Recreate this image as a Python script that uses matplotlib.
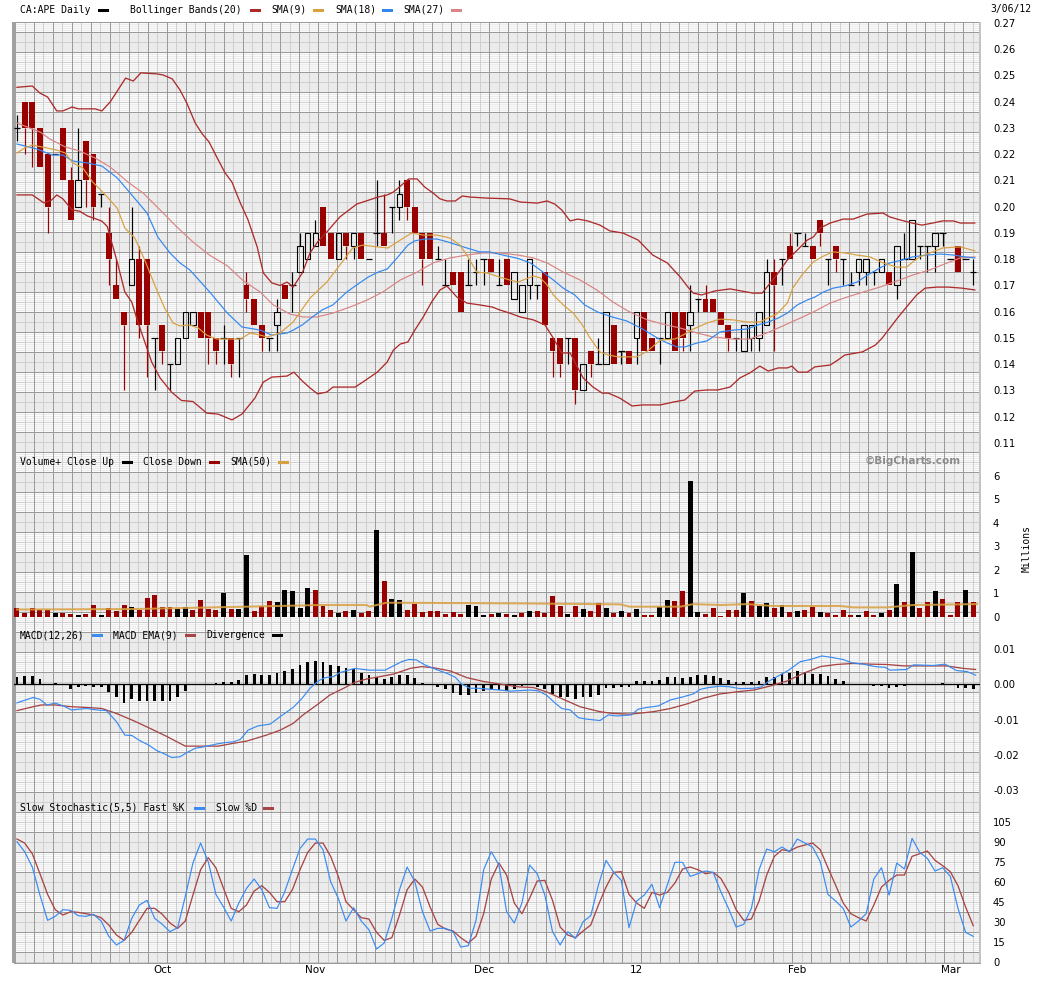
import matplotlib
matplotlib.use("Agg")
import matplotlib.pyplot as plt
from matplotlib.patches import Rectangle
import numpy as np

# ---------------- data (CA:APE daily, Sep 6 2011 - Mar 6 2012) ----------------
opens = [0.23, 0.24, 0.24, 0.23, 0.22, 0.22, 0.23, 0.21, 0.20, 0.225,
         0.22, 0.205, 0.19, 0.17, 0.16, 0.17, 0.18, 0.18, 0.15, 0.155,
         0.14, 0.14, 0.15, 0.155, 0.16, 0.16, 0.15, 0.15, 0.15, 0.15,
         0.17, 0.165, 0.155, 0.15, 0.155, 0.17, 0.17, 0.175, 0.18, 0.185,
         0.20, 0.19, 0.18, 0.19, 0.185, 0.19, 0.18, 0.19, 0.19, 0.20,
         0.20, 0.21, 0.20, 0.19, 0.19, 0.18, 0.17, 0.175, 0.175, 0.17,
         0.175, 0.18, 0.18, 0.17, 0.18, 0.165, 0.16, 0.17, 0.17, 0.175,
         0.15, 0.15, 0.15, 0.15, 0.13, 0.145, 0.14, 0.14, 0.155, 0.145,
         0.145, 0.15, 0.16, 0.15, 0.15, 0.15, 0.16, 0.16, 0.155, 0.165,
         0.165, 0.165, 0.16, 0.155, 0.15, 0.145, 0.15, 0.15, 0.155, 0.175,
         0.18, 0.185, 0.19, 0.185, 0.185, 0.195, 0.18, 0.185, 0.18, 0.17,
         0.175, 0.175, 0.175, 0.175, 0.175, 0.17, 0.18, 0.18, 0.185, 0.185,
         0.185, 0.19, 0.18, 0.185, 0.18, 0.175]
highs = [0.235, 0.24, 0.24, 0.23, 0.22, 0.22, 0.23, 0.215, 0.23, 0.225,
         0.22, 0.205, 0.20, 0.18, 0.16, 0.20, 0.185, 0.18, 0.15, 0.155,
         0.14, 0.15, 0.16, 0.16, 0.16, 0.16, 0.15, 0.155, 0.15, 0.15,
         0.175, 0.165, 0.155, 0.15, 0.165, 0.17, 0.175, 0.19, 0.19, 0.195,
         0.20, 0.19, 0.19, 0.19, 0.19, 0.19, 0.18, 0.21, 0.205, 0.20,
         0.21, 0.21, 0.20, 0.19, 0.19, 0.185, 0.18, 0.175, 0.175, 0.18,
         0.18, 0.18, 0.18, 0.18, 0.18, 0.175, 0.17, 0.18, 0.17, 0.175,
         0.15, 0.15, 0.15, 0.15, 0.14, 0.145, 0.15, 0.16, 0.155, 0.145,
         0.145, 0.16, 0.16, 0.15, 0.15, 0.16, 0.16, 0.16, 0.17, 0.165,
         0.17, 0.165, 0.16, 0.155, 0.15, 0.155, 0.155, 0.16, 0.18, 0.18,
         0.18, 0.19, 0.19, 0.19, 0.185, 0.195, 0.18, 0.185, 0.18, 0.175,
         0.18, 0.18, 0.175, 0.18, 0.175, 0.185, 0.19, 0.195, 0.185, 0.185,
         0.19, 0.19, 0.18, 0.185, 0.18, 0.18]
lows = [0.225, 0.22, 0.215, 0.215, 0.19, 0.22, 0.21, 0.195, 0.20, 0.20,
        0.195, 0.20, 0.17, 0.165, 0.13, 0.17, 0.15, 0.135, 0.13, 0.14,
        0.13, 0.14, 0.15, 0.155, 0.15, 0.14, 0.14, 0.14, 0.135, 0.135,
        0.16, 0.155, 0.145, 0.145, 0.145, 0.165, 0.16, 0.175, 0.18, 0.185,
        0.185, 0.18, 0.18, 0.18, 0.18, 0.18, 0.18, 0.185, 0.185, 0.19,
        0.195, 0.195, 0.19, 0.17, 0.18, 0.18, 0.17, 0.17, 0.16, 0.17,
        0.17, 0.17, 0.175, 0.17, 0.17, 0.165, 0.16, 0.165, 0.165, 0.155,
        0.135, 0.135, 0.14, 0.125, 0.13, 0.135, 0.14, 0.14, 0.14, 0.14,
        0.14, 0.14, 0.145, 0.145, 0.14, 0.15, 0.145, 0.145, 0.145, 0.16,
        0.16, 0.16, 0.155, 0.145, 0.145, 0.145, 0.145, 0.145, 0.155, 0.145,
        0.17, 0.18, 0.185, 0.185, 0.18, 0.185, 0.17, 0.175, 0.17, 0.17,
        0.17, 0.17, 0.17, 0.175, 0.17, 0.165, 0.18, 0.18, 0.18, 0.175,
        0.175, 0.185, 0.18, 0.175, 0.18, 0.17]
closes = [0.23, 0.23, 0.23, 0.215, 0.20, 0.22, 0.21, 0.195, 0.21, 0.21,
          0.20, 0.205, 0.18, 0.165, 0.155, 0.18, 0.155, 0.155, 0.15, 0.145,
          0.14, 0.15, 0.16, 0.16, 0.15, 0.15, 0.145, 0.15, 0.14, 0.15,
          0.165, 0.155, 0.15, 0.15, 0.16, 0.165, 0.17, 0.185, 0.19, 0.19,
          0.185, 0.18, 0.19, 0.185, 0.19, 0.18, 0.18, 0.19, 0.185, 0.20,
          0.205, 0.20, 0.19, 0.18, 0.18, 0.18, 0.17, 0.17, 0.16, 0.17,
          0.175, 0.18, 0.175, 0.17, 0.17, 0.175, 0.17, 0.18, 0.17, 0.155,
          0.145, 0.14, 0.15, 0.13, 0.14, 0.14, 0.14, 0.16, 0.14, 0.145,
          0.14, 0.16, 0.145, 0.145, 0.15, 0.16, 0.145, 0.15, 0.16, 0.165,
          0.16, 0.16, 0.155, 0.15, 0.15, 0.155, 0.155, 0.16, 0.175, 0.17,
          0.18, 0.18, 0.19, 0.185, 0.18, 0.19, 0.18, 0.18, 0.18, 0.17,
          0.18, 0.18, 0.175, 0.18, 0.17, 0.185, 0.18, 0.195, 0.185, 0.185,
          0.19, 0.19, 0.18, 0.175, 0.18, 0.175]

# overlay lines: (day index, value) pairs
bb_upper_x = [0, 2, 3, 4, 5.2, 6, 7.2, 8, 10.2, 11.1, 12.2, 14.2, 15.2, 16.2, 18.3, 19.1, 20.3, 21.3,
              22.2, 23.3, 24.2, 25.1, 26.1, 27.2, 28.1, 29.2, 30.2, 31.4, 32.2, 33.3, 34.4, 35.3, 36.1,
              37.3, 38.3, 39.3, 40.5, 42.2, 44.4, 47.2, 48.4, 49.2, 50.3, 51.2, 52.3, 53.3, 54.4, 55.3,
              56.2, 57.3, 58.2, 59.2, 61.4, 64.4, 65.8, 68, 69.3, 70.3, 71.2, 72.3, 73.3, 74.6, 76.2,
              77.5, 79.2, 81.2, 83.1, 85, 86.7, 87.7, 88.4, 89.5, 91.2, 93.2, 96.2, 97.4, 98.2, 99.3,
              100.7, 102, 103.3, 104.1, 105, 106.3, 108, 109.3, 111.1, 113.2, 114.1, 115.4, 117, 118.3,
              119.7, 121, 122.4, 123.3, 125.2]
bb_upper = [0.2455, 0.246, 0.2433, 0.2418, 0.2365, 0.2365, 0.238, 0.2373, 0.2373, 0.2365, 0.240, 0.249,
            0.2479, 0.251, 0.2506, 0.2502, 0.2487, 0.2445, 0.2395, 0.2319, 0.2278, 0.2247, 0.219, 0.2129,
            0.2094, 0.2014, 0.195, 0.1847, 0.1748, 0.171, 0.170, 0.1713, 0.1694, 0.1748, 0.1824, 0.1866,
            0.1904, 0.1961, 0.201, 0.2037, 0.2045, 0.2056, 0.2083, 0.2106, 0.2106, 0.2075, 0.2052, 0.203,
            0.2022, 0.2022, 0.2041, 0.2037, 0.2033, 0.203, 0.2018, 0.2014, 0.2022, 0.201, 0.1988, 0.1946,
            0.1953, 0.1946, 0.193, 0.1908, 0.190, 0.1873, 0.1816, 0.1786, 0.1732, 0.1694, 0.1671, 0.1664,
            0.1679, 0.1687, 0.1671, 0.1671, 0.170, 0.174, 0.1797, 0.1835, 0.1873, 0.1885, 0.1919, 0.1938,
            0.1953, 0.1953, 0.1972, 0.1976, 0.1961, 0.195, 0.1938, 0.193, 0.1938, 0.1946, 0.1946, 0.1938,
            0.1938]

bb_lower_x = [0, 2, 3.5, 4.5, 5.2, 6, 7.2, 8.2, 9.2, 10.2, 11.1, 11.8, 12.4, 13.1, 14.1, 15, 15.8, 16.7,
              17.6, 18.7, 20.2, 21.5, 23, 24.8, 26.3, 28.1, 29.4, 31.1, 32.2, 33.3, 35.3, 36.2, 37.3,
              38.3, 39.3, 40.5, 41.3, 44.2, 45.2, 47.1, 48.4, 49.2, 50.1, 51.1, 52, 53.1, 54.2, 55.3,
              56.2, 57.5, 58.8, 60.5, 62.1, 63.1, 64.4, 65.8, 67.5, 69, 70.1, 71.2, 72.3, 74, 75.3,
              76.5, 77.3, 78.8, 80.4, 81.8, 84.1, 85.8, 87.3, 88.6, 90.2, 91.6, 93.2, 94.5, 95.8, 97.1,
              98.2, 99.5, 100.7, 101.3, 102.1, 103.3, 104.3, 106.3, 107.3, 108.2, 110.5, 112.2, 113.1,
              114.1, 115.2, 116.5, 117.6, 118.7, 120.3, 121.7, 123.5, 125.2]
bb_lower = [0.2045, 0.2045, 0.2015, 0.2025, 0.2045, 0.203, 0.1988, 0.1983, 0.1965, 0.1955, 0.1945, 0.1925,
            0.1862, 0.179, 0.1675, 0.1637, 0.1561, 0.1485, 0.1409, 0.1348, 0.1294, 0.1262, 0.1258, 0.1214,
            0.121, 0.1188, 0.121, 0.1271, 0.1332, 0.1351, 0.1355, 0.137, 0.1336, 0.131, 0.1287, 0.1294,
            0.1313, 0.1313, 0.1332, 0.137, 0.1409, 0.1454, 0.1477, 0.1485, 0.153, 0.158, 0.1637, 0.1683,
            0.1698, 0.1656, 0.1633, 0.1626, 0.1618, 0.1607, 0.1595, 0.158, 0.1569, 0.155, 0.15, 0.1443,
            0.1443, 0.1348, 0.1313, 0.129, 0.129, 0.1271, 0.1241, 0.1245, 0.1245, 0.1256, 0.1264, 0.1298,
            0.1302, 0.1302, 0.1313, 0.1348, 0.1367, 0.1393, 0.1374, 0.1386, 0.1386, 0.1393, 0.137, 0.137,
            0.139, 0.1397, 0.1416, 0.1435, 0.1447, 0.1473, 0.15, 0.1538, 0.158, 0.1626, 0.1664, 0.169,
            0.1694, 0.1694, 0.169, 0.1683]

sma9_x = [0, 1, 2, 3.9, 5.2, 6.3, 7.3, 8.6, 9.9, 11.2, 13.1, 14.1, 15.4, 16.7, 18, 19.3, 20.4, 21.3, 22.6,
          23.7, 24.8, 26.1, 29.2, 30.5, 31.8, 32.7, 34.4, 36.1, 38.3, 40.5, 42.2, 43.9, 45.2, 47.1, 48.5,
          50.1, 51.6, 53.1, 54.9, 56.6, 57.9, 58.8, 60.1, 61.4, 63.1, 64.4, 65.5, 67.5, 68.4, 69.3, 70.1,
          71.4, 72.7, 73.9, 74.9, 76.2, 77.3, 78.6, 81, 82.4, 84.1, 86, 87.3, 88.4, 90.2, 91.9, 93.6,
          95.4, 97.1, 98.2, 99.3, 100.7, 101.4, 102.6, 104.1, 105.4, 106.7, 108.2, 109.8, 111.5, 113.2,
          115, 116.3, 117.1, 118, 119.7, 121, 123.3, 125.2]
sma9 = [0.2205, 0.2224, 0.2235, 0.2224, 0.2216, 0.2205, 0.2167, 0.2148, 0.2094, 0.2056, 0.1995, 0.1919,
        0.1881, 0.1797, 0.1702, 0.1614, 0.1557, 0.1546, 0.155, 0.1538, 0.1511, 0.1496, 0.1496, 0.1519,
        0.1511, 0.1504, 0.1519, 0.1561, 0.1652, 0.1713, 0.1778, 0.1843, 0.1854, 0.1847, 0.1843, 0.1873,
        0.19, 0.1892, 0.1892, 0.1881, 0.1854, 0.1816, 0.1751, 0.1748, 0.1732, 0.1721, 0.1713, 0.1736,
        0.1729, 0.1702, 0.1664, 0.1626, 0.1595, 0.155, 0.15, 0.1447, 0.1435, 0.1428, 0.1428, 0.145,
        0.1492, 0.1496, 0.1515, 0.1534, 0.1557, 0.1572, 0.1569, 0.1561, 0.1561, 0.1576, 0.1591, 0.1633,
        0.169, 0.174, 0.179, 0.1812, 0.1828, 0.1824, 0.1816, 0.1809, 0.1786, 0.177, 0.177, 0.179,
        0.1809, 0.1828, 0.1843, 0.1847, 0.1832]

sma18_x = [0, 2.6, 4.6, 6, 7.3, 9.2, 11.1, 13.1, 14.8, 17, 18.4, 20, 21.3, 22.6, 25.2, 27.5, 29.4, 31.8,
           33.3, 35.3, 36.1, 37.3, 38.6, 39.9, 41.3, 43.1, 44.4, 45.9, 47.2, 48.4, 49.8, 51.1, 52, 53.3,
           54.9, 56.3, 57.6, 58.8, 60.5, 61.8, 63.5, 65.5, 67.1, 68.4, 70.1, 71.4, 72.9, 74.2, 75.9,
           77.8, 79.7, 81.8, 83.7, 85, 86.3, 87.3, 88.9, 90.2, 91.9, 93.6, 95.4, 96.9, 98.2, 99.5, 100.7,
           102, 103.3, 104.3, 105.4, 106.7, 108.2, 109.8, 111.2, 112.8, 114.1, 115.7, 117.1, 118.95,
           120.7, 122.4, 123.9, 125.2]
sma18 = [0.2239, 0.222, 0.2197, 0.2197, 0.2174, 0.2167, 0.2155, 0.211, 0.2052, 0.1976, 0.1885, 0.1824,
         0.1786, 0.1759, 0.1675, 0.1595, 0.1542, 0.153, 0.1511, 0.1519, 0.153, 0.155, 0.158, 0.1607,
         0.1626, 0.1675, 0.1702, 0.1732, 0.1751, 0.1763, 0.1809, 0.1854, 0.187, 0.1877, 0.1877, 0.1866,
         0.1854, 0.1843, 0.1828, 0.1828, 0.1816, 0.1803, 0.1786, 0.1759, 0.1721, 0.169, 0.1664, 0.1626,
         0.1599, 0.158, 0.1565, 0.1534, 0.15, 0.1481, 0.1466, 0.1466, 0.1481, 0.1489, 0.1523, 0.153,
         0.1534, 0.155, 0.1561, 0.1576, 0.1595, 0.1626, 0.1645, 0.1656, 0.1675, 0.169, 0.1698, 0.1713,
         0.174, 0.1767, 0.1786, 0.1797, 0.1809, 0.1816, 0.182, 0.1816, 0.1809, 0.1805]

sma27_x = [0, 1.3, 3, 4.3, 6.3, 8.2, 10.2, 12.2, 14.5, 16.5, 18.7, 20.9, 23, 25.2, 27.5, 29.5, 31.8, 33.5,
           35.7, 37.4, 39.2, 41.3, 43.9, 45.8, 47.8, 50.1, 52.3, 54.4, 56.6, 58.8, 60.9, 63.1, 65.5,
           67.5, 69.3, 71.4, 73.6, 75.8, 77.9, 80.1, 82.4, 84.4, 86.7, 88.9, 91, 93.6, 95.8, 98, 100.1,
           102.4, 104.1, 106.3, 108.5, 110.6, 112.8, 115, 117.1, 119.3, 121.6, 123.3, 125.2]
sma27 = [0.2319, 0.2304, 0.2285, 0.2258, 0.2228, 0.2212, 0.2186, 0.2151, 0.2094, 0.2052, 0.1988, 0.1923,
         0.1866, 0.1815, 0.1775, 0.172, 0.1675, 0.1626, 0.1591, 0.158, 0.158, 0.1595, 0.1622, 0.1645,
         0.1675, 0.1721, 0.1751, 0.1786, 0.1805, 0.1816, 0.1824, 0.1824, 0.1816, 0.1805, 0.1786, 0.1751,
         0.1721, 0.1683, 0.1637, 0.1599, 0.1569, 0.1553, 0.1538, 0.1519, 0.1504, 0.1496, 0.1496, 0.1519,
         0.1546, 0.1576, 0.1599, 0.1633, 0.1656, 0.1675, 0.1694, 0.1717, 0.174, 0.1759, 0.1786, 0.1805,
         0.1809]

# volume in millions, and close up (u) / close down (d) per day
volume = [0.36, 0.17, 0.36, 0.28, 0.28, 0.18, 0.18, 0.11, 0.07, 0.11,
          0.50, 0.07, 0.36, 0.24, 0.50, 0.41, 0.28, 0.80, 0.92, 0.41,
          0.41, 0.31, 0.41, 0.28, 0.71, 0.33, 0.28, 1.01, 0.33, 0.33,
          2.63, 0.24, 0.46, 0.67, 0.63, 1.14, 1.10, 0.36, 1.22, 1.14,
          0.46, 0.28, 0.16, 0.24, 0.28, 0.16, 0.24, 3.70, 1.52, 0.75,
          0.71, 0.28, 0.54, 0.20, 0.24, 0.24, 0.11, 0.20, 0.11, 0.50,
          0.46, 0.07, 0.11, 0.16, 0.11, 0.07, 0.17, 0.24, 0.24, 0.16,
          0.88, 0.46, 0.11, 0.46, 0.31, 0.24, 0.57, 0.36, 0.16, 0.24,
          0.16, 0.33, 0.07, 0.07, 0.41, 0.71, 0.67, 1.10, 5.79, 0.20,
          0.11, 0.37, 0.03, 0.28, 0.28, 1.01, 0.67, 0.46, 0.58, 0.37,
          0.50, 0.20, 0.24, 0.28, 0.41, 0.20, 0.16, 0.07, 0.28, 0.07,
          0.07, 0.24, 0.07, 0.16, 0.28, 1.39, 0.63, 2.76, 0.37, 0.63,
          1.10, 0.75, 0.07, 0.63, 1.14, 0.63]
vol_dir = ("ddddduddud" "dudddudddd" "duuddddudu" "uddduuuuud" "ddududdudu"
           "uddddddddu" "uududududd" "ddududdudu" "dudduudduu" "ddddduduud"
           "ududdudddd" "uddudududd" "udddud")
vol_sma_x = [0, 15.2, 30, 39.6, 45.7, 46.1, 48.3, 65.5, 78.8, 80.1, 86.7, 88.4, 91.9, 95.4, 98.8,
             107.6, 109.3, 113.7, 117.1, 125.5]
vol_sma = [0.31, 0.33, 0.43, 0.50, 0.50, 0.43, 0.60, 0.57, 0.53, 0.43, 0.43, 0.54, 0.50, 0.54, 0.46,
           0.46, 0.40, 0.40, 0.50, 0.54]

# MACD divergence per day
macd_hist = [0.0021, 0.0023, 0.0023, 0.0014, 0.0, 0.0004, 0.0, -0.0014, -0.0008, -0.0005,
             -0.0009, -0.0008, -0.0022, -0.0038, -0.0053, -0.0042, -0.0047, -0.0047, -0.0047, -0.0047,
             -0.0047, -0.0036, -0.0019, -0.0004, 0.0, 0.0, 0.0004, 0.0006, 0.0006, 0.0011,
             0.0025, 0.0028, 0.0025, 0.0025, 0.0032, 0.0037, 0.0042, 0.0054, 0.0061, 0.0065,
             0.0061, 0.0054, 0.0051, 0.0045, 0.0041, 0.0032, 0.0025, 0.0021, 0.0014, 0.0021,
             0.0025, 0.0025, 0.0018, 0.0004, -0.0004, -0.0009, -0.0015, -0.0024, -0.0032, -0.0032,
             -0.0026, -0.0019, -0.0017, -0.0017, -0.0019, -0.0015, -0.0006, -0.0004, -0.0008, -0.0014,
             -0.0028, -0.0038, -0.0036, -0.0043, -0.0038, -0.0036, -0.003, -0.0011, -0.0011, -0.0008,
             -0.0008, 0.0008, 0.0008, 0.0008, 0.0011, 0.002, 0.002, 0.0018, 0.002, 0.0025,
             0.0025, 0.0023, 0.0017, 0.0011, 0.0006, 0.0006, 0.0006, 0.0008, 0.002, 0.002,
             0.0028, 0.0032, 0.0037, 0.0035, 0.0028, 0.0028, 0.0023, 0.0014, 0.0008, 0.0,
             0.0, -0.0004, -0.0006, -0.0006, -0.0012, -0.0008, -0.0006, 0.0, 0.0, 0.0,
             0.0, 0.0004, -0.0004, -0.0012, -0.0012, -0.0015]
macd_x = [0, 2.1, 3, 3.9, 5, 6.1, 7.1, 9.1, 10.4, 11.7, 13, 14.1, 15, 16.1, 17.2, 18.3, 19.1, 20.2, 21.3,
          22.4, 23.3, 24.4, 26.1, 27.2, 28.3, 29.2, 30.2, 31.5, 33.1, 34.4, 36.1, 37.2, 38.3, 39.4, 40.3,
          41.4, 42.2, 43.3, 44.2, 45.3, 46.1, 48.1, 49.2, 50.3, 51.2, 52.2, 53.3, 54.4, 56.2, 57.3, 58.1,
          59.2, 60.3, 61.4, 63.1, 64.4, 65.5, 67.1, 68.1, 69.2, 70.3, 71.2, 72.3, 73.4, 74.5, 76.2, 77.3,
          78.4, 80.3, 81.2, 82.3, 83.8, 85.4, 87.1, 88.4, 89.3, 90.4, 91.9, 93.2, 94.5, 96.3, 97.3, 98.2,
          99.7, 100.8, 102.4, 103.7, 105.2, 106.5, 108, 109.1, 110.6, 112.2, 113.5, 114.1, 116.3, 117.2,
          119.8, 121.3, 122.8, 124.2, 125.3]
macd = [-0.0053, -0.0038, -0.0043, -0.0059, -0.0054, -0.0062, -0.0073, -0.0069, -0.0073, -0.0075,
        -0.0106, -0.0144, -0.0145, -0.016, -0.0172, -0.0188, -0.0195, -0.0207, -0.0205, -0.0191,
        -0.0181, -0.0177, -0.0169, -0.0165, -0.0163, -0.0156, -0.013, -0.0118, -0.0113, -0.0092,
        -0.0066, -0.0042, -0.0012, 0.0009, 0.0018, 0.0021, 0.0032, 0.0039, 0.0044, 0.0041, 0.0039,
        0.0039, 0.0051, 0.0063, 0.0069, 0.0068, 0.0054, 0.0044, 0.003, 0.0019, 0.0, -0.0012, -0.0012,
        -0.0014, -0.0017, -0.002, -0.0019, -0.0017, -0.0019, -0.0031, -0.0053, -0.0069, -0.0073,
        -0.0095, -0.0099, -0.0103, -0.0087, -0.009, -0.0087, -0.0071, -0.0066, -0.0062, -0.0045,
        -0.0036, -0.0028, -0.0015, -0.001, -0.0006, -0.0008, -0.0013, -0.0012, -0.0008, 0.0007,
        0.0025, 0.0038, 0.0063, 0.0069, 0.0079, 0.0075, 0.0069, 0.006, 0.0056, 0.0049, 0.0047,
        0.0039, 0.0041, 0.0054, 0.0052, 0.0056, 0.0038, 0.0035, 0.0025]
signal_x = [0, 2.1, 3.2, 5, 7.1, 9.1, 11.1, 13, 15.2, 17.4, 19.6, 22, 24.4, 26.3, 28.3, 30, 32.6, 34.4,
            36.1, 37.4, 39.2, 40.9, 42.7, 44.2, 45.7, 47.5, 49.2, 51.4, 52.9, 54.4, 56.6, 58.8, 61,
            63.1, 65.5, 67.5, 69.2, 71.4, 73.6, 76.2, 77.9, 80.1, 83.2, 85.4, 87.6, 89.7, 91.9, 94.1,
            96.3, 98.4, 100.6, 102.8, 105, 107.1, 109.3, 111.5, 113.7, 115.9, 121.5, 123.7, 125.3]
signal = [-0.0075, -0.0064, -0.0059, -0.0059, -0.0064, -0.0066, -0.0069, -0.0083, -0.0103, -0.0125,
          -0.0148, -0.0175, -0.0175, -0.0175, -0.0167, -0.0161, -0.0144, -0.013, -0.0111, -0.0087,
          -0.0059, -0.0031, -0.0012, 0.0005, 0.0014, 0.0021, 0.0028, 0.0044, 0.0049, 0.0046, 0.0037,
          0.0018, 0.0007, 0.0, -0.0008, -0.001, -0.0022, -0.0043, -0.0064, -0.0078, -0.0083, -0.0085,
          -0.0078, -0.0069, -0.0056, -0.004, -0.0028, -0.0022, -0.0017, -0.0006, 0.0008, 0.003,
          0.0049, 0.0055, 0.0058, 0.0056, 0.0055, 0.0051, 0.0051, 0.0044, 0.0041]

# slow stochastic per day
fast_k = [90, 82.5, 71, 50, 31, 34, 39, 38.5, 34.5, 34, 35.5, 30.5, 19, 12.5, 16, 32.5, 42.5, 46, 32.5, 28,
          22.5, 25.5, 49, 74, 89, 75, 50.5, 41, 30.5, 44, 55, 62, 54, 40.5, 40, 52.5, 69, 85, 92, 92,
          84, 60, 47.5, 30.5, 40.5, 30.5, 24, 9.5, 14, 32.5, 54, 71, 60, 37.5, 23, 25, 25, 22.5, 11, 12,
          31, 69, 82.5, 72.5, 37.5, 29, 44, 72.5, 66, 50, 22.5, 12.5, 22.5, 17.5, 30, 34.5, 57.5, 76, 67,
          61, 25.5, 45.5, 50, 58, 40.5, 57.5, 74.5, 74.5, 64, 66, 68, 67, 52.5, 40, 26, 28, 40, 69, 84.5,
          82.5, 86, 82.5, 92, 89, 86, 75, 50.5, 45.5, 40, 26, 30.5, 36, 62, 70.5, 50, 74, 69.5, 92.5, 82,
          77.5, 68, 70.5, 64, 40, 22, 19]
slow_d = [92, 89, 81, 66, 50.5, 39, 35, 37.5, 37, 36, 35, 33, 27.5, 20, 16, 22, 31, 40, 40, 35.5,
          29, 25, 30.5, 50, 69, 78, 70.5, 55, 40, 37.5, 42.5, 53, 57, 52, 45, 45, 54, 69, 82, 89,
          89, 79, 64, 45, 39, 33, 32, 22, 16, 18, 35, 54, 62, 56, 41, 28, 24.5, 23, 18, 14,
          19, 36, 62, 74, 65, 44, 36, 47.5, 60.5, 61, 46, 26, 20, 18, 23, 27.5, 42.5, 56, 67, 67.5,
          50.5, 44, 40, 52, 50, 52, 59, 69.5, 71, 69, 66, 67, 62.5, 52.5, 39, 31, 32, 45.5, 65, 79,
          84, 83, 86, 87.5, 89, 84, 70.5, 57.5, 44, 36, 33, 30.5, 42.5, 56, 61, 65, 65, 79, 81, 83,
          76, 72, 67.5, 57, 41, 27]

month_pos = [19, 39, 61, 81, 102, 122]
month_labels = ["Oct", "Nov", "Dec", "12", "Feb", "Mar"]

# ---------------- styling ----------------
RED = "#990000"
BB_COL = "#ad2a2a"
SMA9_COL = "#d9a040"
SMA18_COL = "#3388f0"
SMA27_COL = "#da8585"
MACD_COL = "#3a8cf2"
SIG_COL = "#a84444"
MONO = "DejaVu Sans Mono"
PX = 0.72  # one pixel in points

W, H = 1045, 981
fig = plt.figure(figsize=(W / 100, H / 100), dpi=100)
fig.patch.set_facecolor("white")


def frac(x0, y0, x1, y1):
    return [x0 / W, 1 - y1 / H, (x1 - x0) / W, (y1 - y0) / H]


# background grid (one continuous grid for all panels)
bg = fig.add_axes([0, 0, 1, 1])
bg.set_xlim(0, W)
bg.set_ylim(H, 0)
bg.axis("off")
L, R, T, B = 14, 980, 22, 963
bg.add_patch(Rectangle((L, T), R - L, B - T, fc="#ebebeb", ec="none"))
stripes = []
for y0 in range(12, B, 40):
    for y in np.arange(max(y0, T) + 1, min(y0 + 20, B), 2):
        stripes.append(y)
bg.hlines(stripes, L, R, colors="#fbfbfb", lw=PX, antialiased=False)
bg.hlines(np.arange(42, B, 20), L, R, colors="#cfcfcf", lw=PX, antialiased=False)
bg.vlines(np.arange(24.5, R, 18.96), T, B, colors="#cfcfcf", lw=PX, antialiased=False)
bg.hlines(np.arange(32, B, 20), L, R, colors="#9a9a9a", lw=PX, antialiased=False)
bg.vlines(np.arange(34, R, 18.96), T, B, colors="#9a9a9a", lw=PX, antialiased=False)
bg.hlines([T, B], L, R, colors="#9a9a9a", lw=PX, antialiased=False)
bg.vlines([L], T, B, colors="#a0a0a0", lw=2.5 * PX, antialiased=False)
bg.vlines([R], T, B, colors="#c4c4c4", lw=1.5 * PX, antialiased=False)

XLIM = (-0.39, 125.88)


def panel(rect, ylim, ticks, fmt):
    ax = fig.add_axes(rect)
    ax.set_facecolor("none")
    ax.set_xlim(*XLIM)
    ax.set_ylim(*ylim)
    for s in ax.spines.values():
        s.set_visible(False)
    ax.yaxis.tick_right()
    ax.set_yticks(ticks)
    ax.set_yticklabels([fmt(t) for t in ticks])
    ax.tick_params(axis="y", length=0, pad=9.4, labelsize=7.2)
    ax.set_xticks([])
    return ax


ax_p = panel(frac(L, T, R, 452), (0.10657, 0.27038), np.round(np.arange(0.11, 0.2701, 0.01), 2),
             lambda t: f"{t:.2f}")
ax_v = panel(frac(L, 452, R, 621), (-0.18, 7.02), list(range(0, 7)), lambda t: f"{t}")
ax_m = panel(frac(L, 621, R, 796), (-0.03155, 0.01775), [-0.03, -0.02, -0.01, 0.0, 0.01],
             lambda t: f"{t:.2f}")
ax_s = panel(frac(L, 796, R, B), (-1.0, 124.3), list(range(0, 106, 15)), lambda t: f"{t}")

# ---------------- price panel ----------------
idx = np.arange(len(closes))
o = np.array(opens)
hi = np.array(highs)
lo = np.array(lows)
c = np.array(closes)
down = c < o - 1e-9
up = c > o + 1e-9
flat = ~(up | down)
wick_col = [RED if d else "black" for d in down]
body_top = np.maximum(o, c)
body_bot = np.minimum(o, c)
ax_p.vlines(idx, body_top, hi, colors=wick_col, lw=1.2 * PX, zorder=2)
ax_p.vlines(idx, lo, body_bot, colors=wick_col, lw=1.2 * PX, zorder=2)
ax_p.bar(idx[down], (o - c)[down], bottom=c[down], width=0.78, color=RED, zorder=3)
ax_p.bar(idx[up], (c - o)[up], bottom=o[up], width=0.72, facecolor="none",
         edgecolor="black", linewidth=1.1 * PX, zorder=3)
ax_p.hlines(c[flat], idx[flat] - 0.42, idx[flat] + 0.42, colors="black", lw=1.2 * PX, zorder=3)

ax_p.plot(bb_upper_x, bb_upper, color=BB_COL, lw=1.3 * PX, zorder=4)
ax_p.plot(bb_lower_x, bb_lower, color=BB_COL, lw=1.3 * PX, zorder=4)
ax_p.plot(sma27_x, sma27, color=SMA27_COL, lw=1.2 * PX, zorder=4)
ax_p.plot(sma18_x, sma18, color=SMA18_COL, lw=1.2 * PX, zorder=4)
ax_p.plot(sma9_x, sma9, color=SMA9_COL, lw=1.2 * PX, zorder=4)

# ---------------- volume panel ----------------
vcol = ["black" if d == "u" else RED for d in vol_dir]
ax_v.bar(idx, volume, width=0.65, color=vcol, zorder=3)
ax_v.plot(vol_sma_x, vol_sma, color=SMA9_COL, lw=2 * PX, alpha=0.85, zorder=4)

# ---------------- MACD panel ----------------
ax_m.bar(idx, macd_hist, width=0.36, color="black", zorder=3)
ax_m.axhline(0, color="black", lw=1.3 * PX, zorder=3)
ax_m.plot(signal_x, signal, color=SIG_COL, lw=1.3 * PX, zorder=4)
ax_m.plot(macd_x, macd, color=MACD_COL, lw=1.2 * PX, zorder=4)

# ---------------- stochastic panel ----------------
ax_s.plot(idx, slow_d, color=SIG_COL, lw=1.3 * PX, zorder=4)
ax_s.plot(idx, fast_k, color=MACD_COL, lw=1.2 * PX, zorder=4)
ax_s.set_xticks(month_pos)
ax_s.set_xticklabels(month_labels)
ax_s.tick_params(axis="x", length=0, pad=1.5, labelsize=7.5)

# ---------------- legends and captions ----------------
ov = fig.add_axes([0, 0, 1, 1])
ov.set_facecolor("none")
ov.set_xlim(0, W)
ov.set_ylim(H, 0)
ov.axis("off")


def legend_row(y, items):
    for text, tx, sx, col in items:
        ov.text(tx, y, text, fontsize=7, family=MONO, va="center", ha="left", color="black")
        ov.add_patch(Rectangle((sx, y - 1.5), 11, 3, fc=col, ec="none"))


legend_row(10, [("CA:APE Daily", 20, 98, "black"),
                ("Bollinger Bands(20)", 130, 250, BB_COL),
                ("SMA(9)", 271, 313, SMA9_COL),
                ("SMA(18)", 335, 382, SMA18_COL),
                ("SMA(27)", 403, 451, SMA27_COL)])
legend_row(462, [("Volume+ Close Up", 20, 122, "black"),
                 ("Close Down", 143, 209, RED),
                 ("SMA(50)", 230, 278, SMA9_COL)])
legend_row(635, [("MACD(12,26)", 20, 92, MACD_COL),
                 ("MACD EMA(9)", 113, 185, SIG_COL),
                 ("Divergence", 206, 272, "black")])
legend_row(808, [("Slow Stochastic(5,5) Fast %K", 20, 194, MACD_COL),
                 ("Slow %D", 216, 263, SIG_COL)])

ov.text(1011, 9, "3/06/12", fontsize=7, family=MONO, ha="center", va="center")
ov.text(961, 461, "\u00a9BigCharts.com", fontsize=7.5, fontweight="bold", color="#8c8c8c",
        ha="right", va="center")
ov.text(1027, 548, "Millions", fontsize=7, family=MONO, rotation=90, ha="center", va="center")

fig.savefig("out.png", dpi=100)
